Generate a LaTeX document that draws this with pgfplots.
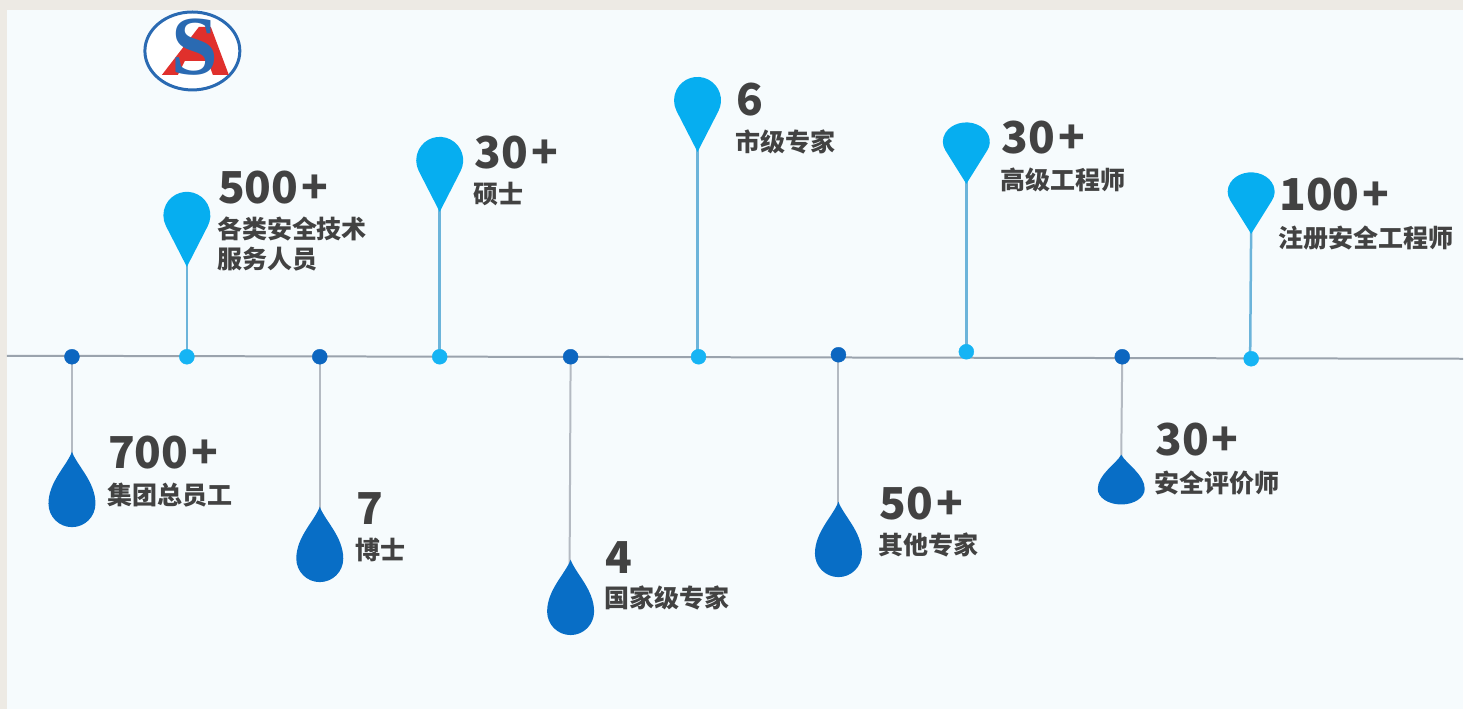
\documentclass[border=0pt]{standalone}
\usepackage{fontspec}
\usepackage{pgfplots}
\pgfplotsset{compat=1.18}
\newfontfamily\cjk{Noto Sans CJK SC}
\newfontfamily\logoS{Liberation Serif}

\definecolor{beige}{HTML}{EDEAE4}
\definecolor{panel}{HTML}{F6FBFD}
\definecolor{pinblue}{HTML}{06AEF0}
\definecolor{dropblue}{HTML}{086EC6}
\definecolor{dotdark}{HTML}{0C66C0}
\definecolor{dotlight}{HTML}{16B4F4}
\definecolor{linegray}{HTML}{9AA3AD}
\definecolor{stemblue}{HTML}{6CB4DA}
\definecolor{stemgray}{HTML}{B4BAC2}
\definecolor{txt}{HTML}{424242}
\definecolor{logoblue}{HTML}{2A6AB2}
\definecolor{logored}{HTML}{E0302C}

% pin: tip at the data point, round head above
\pgfdeclareplotmark{pinhead}{%
  \pgfpathmoveto{\pgfpointorigin}%
  \pgfpathlineto{\pgfpoint{20.9pt}{40.8pt}}%
  \pgfpatharc{-27.15}{207.15}{23.5pt}%
  \pgfpathclose\pgfusepathqfill}
% drop: tip at the data point, round body below
\pgfdeclareplotmark{drop}{%
  \pgfpathmoveto{\pgfpointorigin}%
  \pgfpathcurveto{\pgfpoint{5pt}{-14pt}}{\pgfpoint{23.5pt}{-30pt}}{\pgfpoint{23.5pt}{-52pt}}%
  \pgfpatharc{0}{-180}{23.5pt}%
  \pgfpathcurveto{\pgfpoint{-23.5pt}{-30pt}}{\pgfpoint{-5pt}{-14pt}}{\pgfpointorigin}%
  \pgfpathclose\pgfusepathqfill}

\newcommand\num[1]{{\fontsize{44}{44}\selectfont\bfseries #1}}
\newcommand\lab[1]{{\fontsize{25}{29}\selectfont\bfseries #1}}
\newcommand\plus{\kern3pt+}

\begin{document}
\begin{tikzpicture}
\begin{axis}[
    scale only axis,
    width=1464pt, height=709pt,
    xmin=0, xmax=1464, ymin=0, ymax=709,
    y dir=reverse,
    hide axis,
    clip=false,
  ]
  % background
  \fill[beige] (axis cs:0,0) rectangle (axis cs:1464,709);
  \fill[panel] (axis cs:7,10) rectangle (axis cs:1464,709);

  % logo: ellipse, red A, blue S
  \draw[logoblue, line width=3pt, fill=white] (axis cs:192.5,51) ellipse [x radius=47.5pt, y radius=39pt];
  \fill[logored] (axis cs:162,75) -- (axis cs:199,27) -- (axis cs:211,27) -- (axis cs:229,75)
    -- (axis cs:213,75) -- (axis cs:208,61) -- (axis cs:185,61) -- (axis cs:178,75) -- cycle;
  \node[logoblue, inner sep=0pt, anchor=base] at (axis cs:195,75)
    {\fontsize{84}{84}\selectfont\logoS\bfseries S};

  % time line
  \addplot[linegray, line width=2pt] coordinates {(7,356) (1464,359)};

  % stems
  \addplot[stemblue, line width=2.5pt] coordinates {(187,357) (187,262)};
  \addplot[stemblue, line width=2.5pt] coordinates {(440,357) (440,207)};
  \addplot[stemblue, line width=2.5pt] coordinates {(698,357) (698,147)};
  \addplot[stemblue, line width=2.5pt] coordinates {(967,352) (967,180)};
  \addplot[stemblue, line width=2.5pt] coordinates {(1251,359) (1252,228)};
  \addplot[stemgray, line width=2pt] coordinates {(72,357) (72,458)};
  \addplot[stemgray, line width=2pt] coordinates {(320,357) (320,512)};
  \addplot[stemgray, line width=2pt] coordinates {(571,357) (570,565)};
  \addplot[stemgray, line width=2pt] coordinates {(839,355) (839,507)};
  \addplot[stemgray, line width=2pt] coordinates {(1123,357) (1122,460)};

  % dots on the line
  \addplot[only marks, mark=*, mark size=7.5pt, color=dotdark, mark options={fill=dotdark, draw=dotdark}]
    coordinates {(72,357) (320,357) (571,357) (839,355) (1123,357)};
  \addplot[only marks, mark=*, mark size=7.5pt, color=dotlight, mark options={fill=dotlight, draw=dotlight}]
    coordinates {(187,357) (440,357) (699,357) (967,352) (1252,359)};

  % pins above
  \addplot[only marks, mark=pinhead, mark options={fill=pinblue, draw=none}]
    coordinates {(187,267) (440,212) (698,152)};
  \addplot[only marks, mark=pinhead, mark options={fill=pinblue, draw=none, yscale=0.82}]
    coordinates {(967,184) (1252,234)};
  % drops below
  \addplot[only marks, mark=drop, mark options={fill=dropblue, draw=none}]
    coordinates {(72,452) (320,507) (571,560) (839,502)};
  \addplot[only marks, mark=drop, mark options={fill=dropblue, draw=none, yscale=0.66}]
    coordinates {(1122,455)};

  % labels
  \begin{scope}[every node/.style={txt, inner sep=0pt, anchor=base west, font=\cjk}]
    \node at (axis cs:218,204) {\num{500\plus}};
    \node at (axis cs:217,239) {\lab{各类安全技术}};
    \node at (axis cs:217,269) {\lab{服务人员}};
    \node at (axis cs:475,169) {\num{30\plus}};
    \node at (axis cs:474,204) {\lab{硕士}};
    \node at (axis cs:737,116) {\num{6}};
    \node at (axis cs:736,152) {\lab{市级专家}};
    \node at (axis cs:1002,154) {\num{30\plus}};
    \node at (axis cs:1001,190) {\lab{高级工程师}};
    \node at (axis cs:1280,211) {\num{100\plus}};
    \node at (axis cs:1279,248) {\lab{注册安全工程师}};

    \node at (axis cs:108,469) {\num{700\plus}};
    \node at (axis cs:107,505) {\lab{集团总员工}};
    \node at (axis cs:357,525) {\num{7}};
    \node at (axis cs:356,560) {\lab{博士}};
    \node at (axis cs:606,574) {\num{4}};
    \node at (axis cs:605,608) {\lab{国家级专家}};
    \node at (axis cs:880,520) {\num{50\plus}};
    \node at (axis cs:879,555) {\lab{其他专家}};
    \node at (axis cs:1156,456) {\num{30\plus}};
    \node at (axis cs:1155,493) {\lab{安全评价师}};
  \end{scope}
\end{axis}
\end{tikzpicture}
\end{document}
